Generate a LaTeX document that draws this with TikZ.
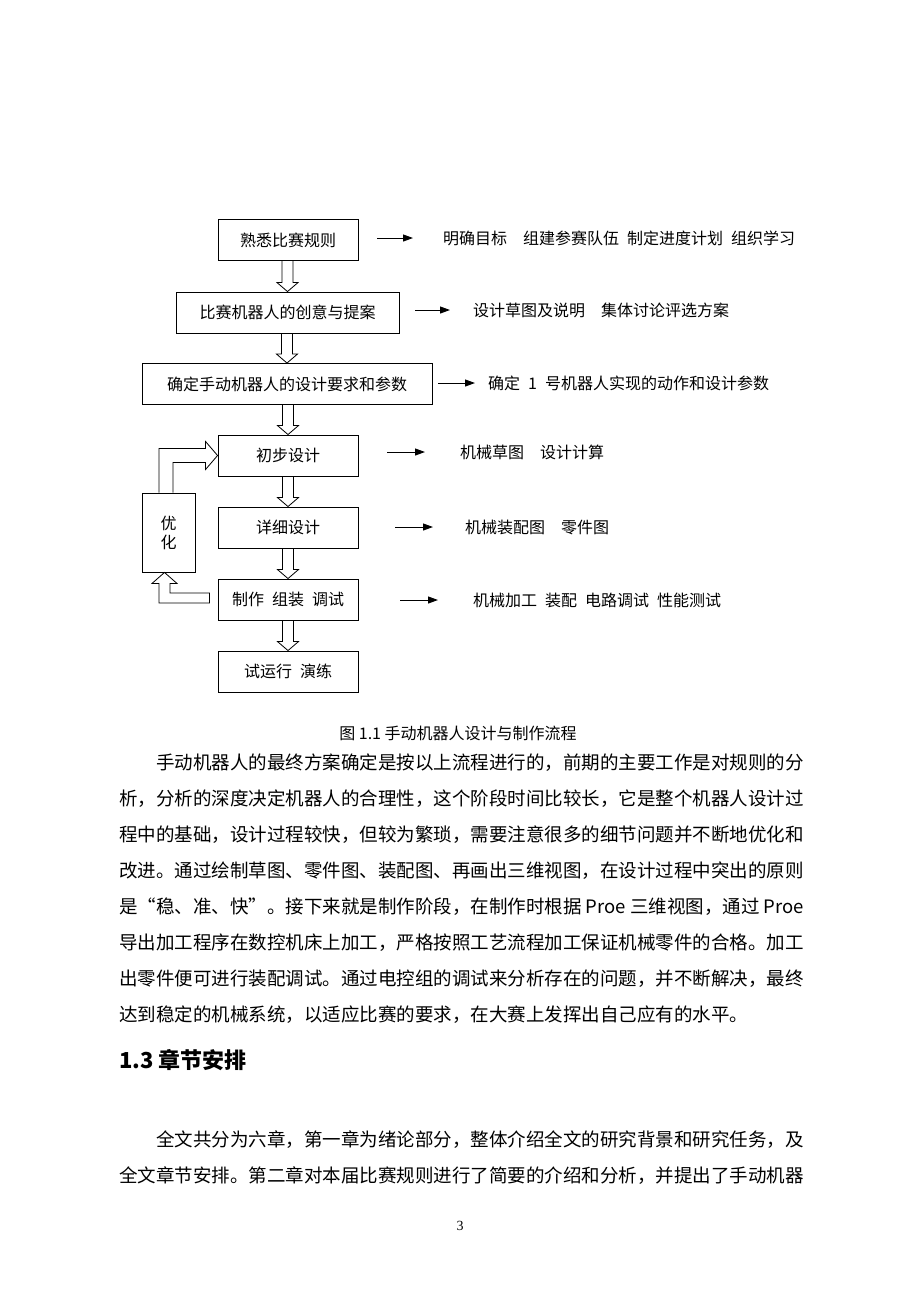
\documentclass[tikz,border=0pt]{standalone}
\usepackage{fontspec}
\usetikzlibrary{arrows.meta,calc}
\setmainfont{Liberation Serif}
\newfontfamily\cjk{Noto Sans CJK SC}

\begin{document}
\begin{tikzpicture}[x=1pt,y=-1pt,
  box/.style={draw, line width=0.9pt, minimum height=41pt, inner sep=0pt, font=\cjk\fontsize{16}{19}\selectfont},
  note/.style={anchor=west, inner sep=0pt, font=\cjk\fontsize{16}{19}\selectfont},
  arr/.style={-{Triangle[length=10pt,width=7pt]}, line width=1pt},
  hollow/.style={draw, line width=0.8pt},
  body/.style={anchor=west, inner sep=0pt, font=\cjk\fontsize{18.5}{21}\selectfont}]%
\fill[white] (0,0) rectangle (920,1302);%
\useasboundingbox (0,0) rectangle (920,1302);%
\node[box, minimum width=140pt] (rule) at (288,240) {熟悉比赛规则};%
\node[box, minimum width=223pt] (idea) at (287.5,312.5) {比赛机器人的创意与提案};%
\node[box, minimum width=290pt] (req) at (287,384) {确定手动机器人的设计要求和参数};%
\node[box, minimum width=140pt] (pre) at (288,455.5) {初步设计};%
\node[box, minimum width=140pt] (det) at (288,527.5) {详细设计};%
\node[box, minimum width=140pt] (make) at (288,599.5) {制作\enspace 组装\enspace 调试};%
\node[box, minimum width=140pt] (run) at (288,671.5) {试运行\enspace 演练};%
\node[box, minimum width=53pt, minimum height=79pt, align=center] (opt) at (168.5,532.5) {优\\化};%
\node[note] (n1) at (443,238) {明确目标　组建参赛队伍\enspace 制定进度计划\enspace 组织学习};%
\node[note] (n2) at (473,310) {设计草图及说明　集体讨论评选方案};%
\node[note] (n3) at (488,383) {确定\enspace 1\enspace 号机器人实现的动作和设计参数};%
\node[note] (n4) at (460,452) {机械草图　设计计算};%
\node[note] (n5) at (465,527) {机械装配图　零件图};%
\node[note] (n6) at (473,600) {机械加工\enspace 装配\enspace 电路调试\enspace 性能测试};%
\draw[arr, shorten <=19pt, shorten >=30pt] (n1.west -| rule.east) -- (n1.west);%
\draw[arr, shorten <=16pt, shorten >=23pt] (n2.west -| idea.east) -- (n2.west);%
\draw[arr, shorten <=6pt, shorten >=13pt] (n3.west -| req.east) -- (n3.west);%
\draw[arr, shorten <=29pt, shorten >=35pt] (n4.west -| pre.east) -- (n4.west);%
\draw[arr, shorten <=37pt, shorten >=32pt] (n5.west -| det.east) -- (n5.west);%
\draw[arr, shorten <=42pt, shorten >=35pt] (n6.west -| make.east) -- (n6.west);%
\foreach \a/\b in {rule/idea, idea/req, req/pre, pre/det, det/make, make/run}
  \draw[hollow] ($(\a.south -| \b.north)+(-5.5,0)$) -- ($(\b.north)+(-5.5,-9)$) -- ++(-5,0) -- (\b.north) -- ++(10.5,-9) -- ++(-5,0) -- ($(\a.south -| \b.north)+(5.5,0)$);%
\draw[hollow] ($(make.west)+(-8,-6.5)$) -| ($(opt.south)+(1.5,11)$) -- ++(7,0) -- ($(opt.south)+(-4,0)$) -- ($(opt.south)+(-16.5,11)$) -- ++(7,0) |- ($(make.west)+(-8,3.5)$) -- cycle;%
\draw[hollow] ($(opt.north)+(-9.5,0)$) |- ($(pre.west)+(-12,-7)$) -- ++(0,-7) -- (pre.west) -- ++(-12,14) -- ++(0,-7) -| ($(opt.north)+(4.5,0)$);%
\node[font=\cjk\fontsize{16}{19}\selectfont] (cap) at (458,733) {图 1.1 手动机器人设计与制作流程};%
\node[body] (p1) at (156,763) {手动机器人的最终方案确定是按以上流程进行的，前期的主要工作是对规则的分};%
\node[body] (p2) at (119,799) {析，分析的深度决定机器人的合理性，这个阶段时间比较长，它是整个机器人设计过};%
\node[body] (p3) at (119,835) {程中的基础，设计过程较快，但较为繁琐，需要注意很多的细节问题并不断地优化和};%
\node[body] (p4) at (119,871) {改进。通过绘制草图、零件图、装配图、再画出三维视图，在设计过程中突出的原则};%
\node[body] (p5) at (119,907) {是“稳、准、快”。接下来就是制作阶段，在制作时根据 Proe 三维视图，通过 Proe};%
\node[body] (p6) at (119,943) {导出加工程序在数控机床上加工，严格按照工艺流程加工保证机械零件的合格。加工};%
\node[body] (p7) at (119,979) {出零件便可进行装配调试。通过电控组的调试来分析存在的问题，并不断解决，最终};%
\node[body] (p8) at (119,1015) {达到稳定的机械系统，以适应比赛的要求，在大赛上发挥出自己应有的水平。};%
\node[anchor=west, inner sep=0pt, font=\cjk\bfseries\fontsize{22}{26}\selectfont] (sec) at (119,1060) {1.3 章节安排};%
\node[body] (q1) at (156,1140) {全文共分为六章，第一章为绪论部分，整体介绍全文的研究背景和研究任务，及};%
\node[body] (q2) at (119,1176) {全文章节安排。第二章对本届比赛规则进行了简要的介绍和分析，并提出了手动机器};%
\node[font=\fontsize{14}{16}\selectfont] (pg) at (460,1226) {3};%
\end{tikzpicture}
\end{document}
